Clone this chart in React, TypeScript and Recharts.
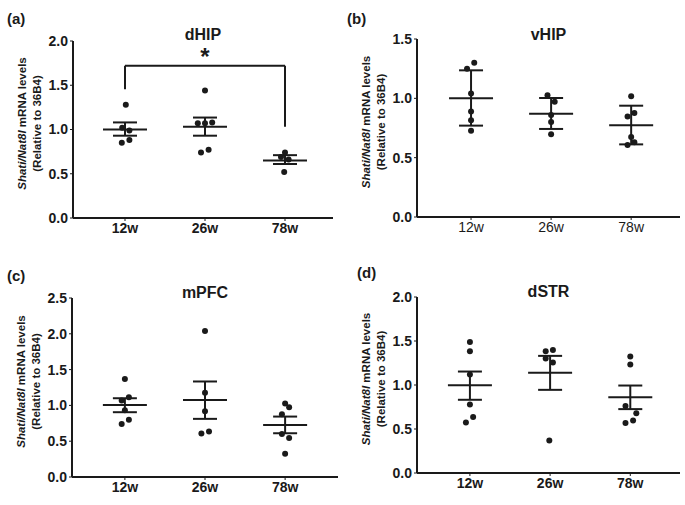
import React from "react";
import {
  ComposedChart,
  Scatter,
  XAxis,
  YAxis,
  ErrorBar,
  ReferenceLine,
  ReferenceDot,
} from "recharts";

const categories = ["12w", "26w", "78w"];

// (a) dHIP
const dhipValues = [
  [1.28, 1.02, 0.99, 0.85, 0.88],
  [1.44, 1.07, 1.07, 1.08, 0.74, 0.77],
  [0.74, 0.69, 0.66, 0.52],
];
const dhipOffset = [
  [0.01, -0.035, 0.055, -0.04, 0.055],
  [0, -0.09, 0, 0.09, -0.05, 0.045],
  [0, -0.05, 0.045, -0.01],
];
const dhipMean = [1.0, 1.03, 0.65];
const dhipLow = [0.93, 0.93, 0.61];
const dhipHigh = [1.08, 1.135, 0.71];

// (b) vHIP
const vhipValues = [
  [1.3, 1.25, 1.04, 0.89, 0.815, 0.727],
  [1.025, 0.972, 0.86, 0.8, 0.697],
  [1.017, 0.876, 0.846, 0.674, 0.629, 0.607],
];
const vhipOffset = [
  [0.04, -0.05, 0, 0, 0, 0],
  [-0.045, 0.045, 0, 0, 0],
  [0, 0.04, -0.045, 0, 0.04, -0.045],
];
const vhipMean = [1.0, 0.871, 0.774];
const vhipLow = [0.77, 0.742, 0.612];
const vhipHigh = [1.236, 1.003, 0.938];

// (c) mPFC
const mpfcValues = [
  [1.37, 1.115, 1.068, 0.933, 0.8, 0.74],
  [2.038, 1.175, 0.919, 0.634, 0.606],
  [1.026, 0.975, 0.877, 0.6, 0.546, 0.326],
];
const mpfcOffset = [
  [0, 0.05, -0.04, 0, 0.05, -0.04],
  [0, 0, 0, 0.05, -0.045],
  [0, 0.05, -0.04, -0.04, 0.05, 0],
];
const mpfcMean = [1.004, 1.076, 0.726];
const mpfcLow = [0.905, 0.812, 0.611];
const mpfcHigh = [1.1, 1.334, 0.844];

// (d) dSTR
const dstrValues = [
  [1.49, 1.384, 1.119, 0.779, 0.635, 0.575],
  [1.399, 1.384, 1.3, 1.255, 0.37],
  [1.323, 1.233, 0.76, 0.68, 0.597, 0.567],
];
const dstrOffset = [
  [0, 0, 0, 0, 0.04, -0.05],
  [0.035, -0.055, -0.055, 0.035, -0.01],
  [0, 0, -0.06, 0.075, 0.035, -0.06],
];
const dstrMean = [0.997, 1.14, 0.861];
const dstrLow = [0.832, 0.945, 0.726];
const dstrHigh = [1.153, 1.331, 0.994];

// significance bracket in (a): 12w vs 78w
const dhipSig = { from: 1, to: 3, y: 1.72, leftEnd: 1.455, rightEnd: 1.03, starY: 1.83 };

const FONT = "'Liberation Sans', Arial, sans-serif";
const INK = "#1a1a1a";

const YLabel = (props: any) => {
  const vb = props.viewBox || {};
  const axisX = vb.x + vb.width;
  const cy = vb.y + vb.height / 2 - 6;
  const x1 = axisX - 51;
  const x2 = axisX - 36;
  return (
    <g fontFamily={FONT} fontSize={11.5} fontWeight={700} fill={INK}>
      <text
        x={x1}
        y={cy}
        textAnchor="middle"
        dominantBaseline="central"
        transform={`rotate(-90, ${x1}, ${cy})`}
      >
        <tspan fontStyle="italic">Shati/Nat8l</tspan> mRNA levels
      </text>
      <text
        x={x2}
        y={cy}
        textAnchor="middle"
        dominantBaseline="central"
        transform={`rotate(-90, ${x2}, ${cy})`}
      >
        (Relative to 36B4)
      </text>
    </g>
  );
};

const Panel = (props: any) => {
  const { cfg } = props;
  const points = cfg.values.flatMap((arr: number[], g: number) =>
    arr.map((v, i) => ({ x: g + 1 + cfg.offset[g][i], y: v }))
  );
  const means = cfg.mean.map((m: number, g: number) => ({
    x: g + 1,
    y: m,
    err: [m - cfg.low[g], cfg.high[g] - m],
  }));
  const yTicks: number[] = [];
  for (let t = 0; t <= cfg.yMax + 1e-9; t += 0.5) yTicks.push(t);
  const plotW = cfg.plot.right - cfg.plot.left;

  return (
    <div
      style={{
        position: "absolute",
        left: cfg.left,
        top: cfg.top,
        width: cfg.width,
        height: cfg.height,
        fontFamily: FONT,
      }}
    >
      <div
        style={{
          position: "absolute",
          left: cfg.letterX,
          top: cfg.letterY,
          fontSize: 15,
          fontWeight: 700,
          color: INK,
          lineHeight: 1,
        }}
      >
        {cfg.letter}
      </div>
      <div
        style={{
          position: "absolute",
          left: cfg.plot.left,
          width: plotW,
          top: cfg.titleY,
          textAlign: "center",
          fontSize: 16,
          fontWeight: 700,
          color: INK,
          lineHeight: 1,
        }}
      >
        {cfg.title}
      </div>
      <ComposedChart
        width={cfg.width}
        height={cfg.height}
        margin={{ top: cfg.plot.top, right: cfg.width - cfg.plot.right, bottom: 0, left: 0 }}
      >
        <XAxis
          type="number"
          dataKey="x"
          domain={cfg.xDomain}
          allowDataOverflow
          ticks={[1, 2, 3]}
          tickFormatter={(v: number) => categories[v - 1]}
          height={cfg.height - cfg.plot.bottom}
          axisLine={{ stroke: INK, strokeWidth: 2 }}
          tickLine={{ stroke: INK, strokeWidth: 1 }}
          tickSize={3}
          tick={{
            fill: INK,
            fontSize: 14,
            fontWeight: cfg.xBold ? 700 : 400,
            fontFamily: FONT,
          }}
        />
        <YAxis
          type="number"
          dataKey="y"
          domain={[0, cfg.yMax]}
          ticks={yTicks}
          allowDataOverflow
          width={cfg.plot.left}
          tickFormatter={(v: number) => v.toFixed(1)}
          axisLine={{ stroke: INK, strokeWidth: 2 }}
          tickLine={{ stroke: INK, strokeWidth: 1 }}
          tickSize={3}
          tick={{ fill: INK, fontSize: 14, fontWeight: 700, fontFamily: FONT }}
          label={(p: any) => <YLabel {...p} />}
        />
        {cfg.sig && (
          <ReferenceLine
            segment={[
              { x: cfg.sig.from, y: cfg.sig.leftEnd },
              { x: cfg.sig.from, y: cfg.sig.y },
            ]}
            stroke={INK}
            strokeWidth={2}
          />
        )}
        {cfg.sig && (
          <ReferenceLine
            segment={[
              { x: cfg.sig.from, y: cfg.sig.y },
              { x: cfg.sig.to, y: cfg.sig.y },
            ]}
            stroke={INK}
            strokeWidth={2}
          />
        )}
        {cfg.sig && (
          <ReferenceLine
            segment={[
              { x: cfg.sig.to, y: cfg.sig.y },
              { x: cfg.sig.to, y: cfg.sig.rightEnd },
            ]}
            stroke={INK}
            strokeWidth={2}
          />
        )}
        {cfg.sig && (
          <ReferenceDot
            x={(cfg.sig.from + cfg.sig.to) / 2}
            y={cfg.sig.starY}
            r={0}
            stroke="none"
            label={{
              value: "*",
              position: "center",
              fill: INK,
              fontSize: 24,
              fontWeight: 700,
              fontFamily: FONT,
            }}
          />
        )}
        <Scatter
          data={points}
          isAnimationActive={false}
          shape={(p: any) => <circle cx={p.cx} cy={p.cy} r={3} fill={INK} />}
        />
        <Scatter
          data={means}
          isAnimationActive={false}
          shape={(p: any) => (
            <line
              x1={p.cx - 22}
              x2={p.cx + 22}
              y1={p.cy}
              y2={p.cy}
              stroke={INK}
              strokeWidth={2}
            />
          )}
        >
          <ErrorBar
            dataKey="err"
            direction="y"
            width={12}
            stroke={INK}
            strokeWidth={2}
            isAnimationActive={false}
          />
        </Scatter>
      </ComposedChart>
    </div>
  );
};

const panels = [
  {
    letter: "(a)",
    title: "dHIP",
    left: 0,
    top: 0,
    width: 340,
    height: 250,
    plot: { left: 73, top: 41, bottom: 218, right: 333 },
    xDomain: [0.35, 3.6],
    yMax: 2,
    xBold: true,
    letterX: 7,
    letterY: 11,
    titleY: 27,
    values: dhipValues,
    offset: dhipOffset,
    mean: dhipMean,
    low: dhipLow,
    high: dhipHigh,
    sig: dhipSig,
  },
  {
    letter: "(b)",
    title: "vHIP",
    left: 340,
    top: 0,
    width: 345,
    height: 250,
    plot: { left: 77, top: 39, bottom: 217, right: 340 },
    xDomain: [0.325, 3.61],
    yMax: 1.5,
    xBold: false,
    letterX: 7,
    letterY: 11,
    titleY: 27,
    values: vhipValues,
    offset: vhipOffset,
    mean: vhipMean,
    low: vhipLow,
    high: vhipHigh,
  },
  {
    letter: "(c)",
    title: "mPFC",
    left: 0,
    top: 250,
    width: 340,
    height: 255,
    plot: { left: 72, top: 48, bottom: 227, right: 338 },
    xDomain: [0.34, 3.66],
    yMax: 2.5,
    xBold: true,
    letterX: 7,
    letterY: 18,
    titleY: 35,
    values: mpfcValues,
    offset: mpfcOffset,
    mean: mpfcMean,
    low: mpfcLow,
    high: mpfcHigh,
  },
  {
    letter: "(d)",
    title: "dSTR",
    left: 340,
    top: 250,
    width: 345,
    height: 255,
    plot: { left: 77, top: 47, bottom: 223, right: 340 },
    xDomain: [0.34, 3.62],
    yMax: 2,
    xBold: true,
    letterX: 17,
    letterY: 15,
    titleY: 34,
    values: dstrValues,
    offset: dstrOffset,
    mean: dstrMean,
    low: dstrLow,
    high: dstrHigh,
  },
];

export default function App() {
  return (
    <div
      style={{
        position: "absolute",
        left: 0,
        top: 0,
        width: 685,
        height: 505,
        background: "#fff",
      }}
    >
      {panels.map((cfg) => (
        <Panel key={cfg.letter} cfg={cfg} />
      ))}
    </div>
  );
}
